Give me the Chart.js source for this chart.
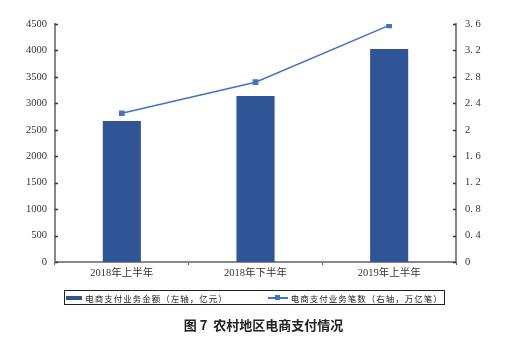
<!DOCTYPE html>
<html><head><meta charset="utf-8">
<script src="https://cdn.jsdelivr.net/npm/chart.js@4"></script>
<style>
html,body{margin:0;padding:0;background:#fff;}
#wrap{position:relative;width:527px;height:347px;}
canvas{position:absolute;left:0;top:0;}
#legend{position:absolute;left:64px;top:290px;width:379px;height:13px;border:1px solid #222;font-family:"Noto Sans CJK SC",serif;font-size:8.5px;color:#222;display:flex;align-items:center;justify-content:center;gap:40px;letter-spacing:1px;}
.li{display:flex;align-items:center;gap:3px;}
.bar{width:16px;height:4px;background:#2F5597;display:inline-block;}
.ln{position:relative;width:20px;height:2px;background:#4472C4;display:inline-block;}
.ln i{position:absolute;left:7px;top:-2px;width:5px;height:5px;background:#4472C4;}
#title{position:absolute;left:0;width:527px;top:315px;text-align:center;font-family:"Noto Sans CJK SC",sans-serif;font-weight:bold;font-size:13px;color:#222;}
</style></head>
<body><div id="wrap"><canvas id="c" width="527" height="347"></canvas>
<div id="legend"><span class="li"><span class="bar"></span>电商支付业务金额（左轴，亿元）</span><span class="li"><span class="ln"><i></i></span>电商支付业务笔数（右轴，万亿笔）</span></div>
<div id="title">图 7&nbsp; 农村地区电商支付情况</div>
</div>
<script>
const categories = ["2018年上半年","2018年下半年","2019年上半年"];
const amountValues = [2666, 3139, 4027];
const countValues = [2.25, 2.72, 3.58];
const leftTicks = [0,500,1000,1500,2000,2500,3000,3500,4000,4500];
const rightTicks = [0,0.4,0.8,1.2,1.6,2,2.4,2.8,3.2,3.6];

const inwardTicks = {
  id:'inwardTicks',
  afterDraw(chart){
    const ctx = chart.ctx, y = chart.scales.y, y1 = chart.scales.y1;
    ctx.save(); ctx.strokeStyle='#333'; ctx.lineWidth=1.5;
    y.ticks.forEach(t=>{const p=Math.round(y.getPixelForValue(t.value))+0.5; ctx.beginPath(); ctx.moveTo(y.right,p); ctx.lineTo(y.right+3,p); ctx.stroke();});
    y1.ticks.forEach(t=>{const p=Math.round(y1.getPixelForValue(t.value))+0.5; ctx.beginPath(); ctx.moveTo(y1.left,p); ctx.lineTo(y1.left-3,p); ctx.stroke();});
    ctx.restore();
  }
};

new Chart(document.getElementById('c'), {
  data:{
    labels: categories,
    datasets:[
      {type:'line', data:countValues, yAxisID:'y1', borderColor:'#4472C4', backgroundColor:'#4472C4', borderWidth:1.5, pointStyle:'rect', pointRadius:3, tension:0, order:0},
      {type:'bar', data:amountValues, yAxisID:'y', backgroundColor:'#2F5597', barPercentage:0.285, categoryPercentage:1, order:1}
    ]
  },
  options:{
    responsive:false, animation:false,
    layout:{padding:{left:0,right:0,top:24,bottom:0}},
    plugins:{legend:{display:false}, tooltip:{enabled:false}},
    scales:{
      x:{
        grid:{display:true, drawOnChartArea:false, offset:true, tickLength:3, color:'#555'},
        border:{color:'#888', width:2},
        ticks:{font:{family:'"Liberation Serif","Noto Sans CJK SC",serif', size:10.5}, color:'#333', padding:2},
        afterFit(s){s.height=85;}
      },
      y:{
        position:'left', min:0, max:4500,
        afterBuildTicks(s){s.ticks = leftTicks.map(v=>({value:v}));},
        grid:{display:false, drawTicks:false},
        border:{color:'#888', width:2},
        ticks:{font:{family:'"Liberation Serif",serif', size:10.5}, color:'#333', padding:8, callback:v=>String(v)},
        afterFit(s){s.width=55;}
      },
      y1:{
        position:'right', min:0, max:3.6,
        afterBuildTicks(s){s.ticks = rightTicks.map(v=>({value:v}));},
        grid:{display:false, drawTicks:false},
        border:{color:'#888', width:2},
        ticks:{font:{family:'"Liberation Serif",serif', size:10.5}, color:'#333', padding:9, callback:v=>String(v).replace('.', '. ')},
        afterFit(s){s.width=71;}
      }
    }
  },
  plugins:[inwardTicks]
});
</script>
</body></html>
